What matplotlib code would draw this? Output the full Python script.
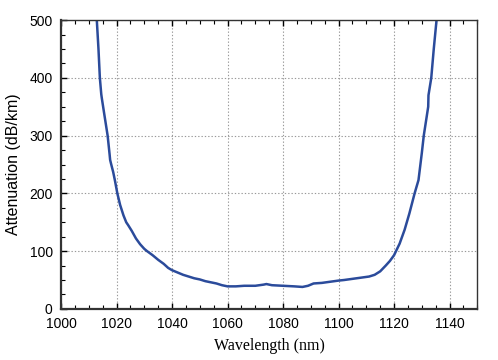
import matplotlib.pyplot as plt
from matplotlib.ticker import MultipleLocator

# attenuation spectrum
wavelength = [1012.9, 1013.5, 1014.0, 1014.5, 1014.7, 1015.5, 1016.8, 1017.5, 1017.7, 1018.0,
              1018.8, 1019.4, 1020.3, 1021.3, 1022.5, 1023.5, 1024.2, 1025.5, 1027.0, 1028.5,
              1030.0, 1031.0, 1033.0, 1035.0, 1037.0, 1038.6, 1040.0, 1042.0, 1044.0, 1046.0,
              1048.0, 1050.0, 1052.0, 1054.0, 1056.0, 1058.0, 1060.0, 1063.0, 1066.0, 1070.0,
              1073.0, 1074.0, 1076.0, 1080.0, 1084.0, 1087.0, 1089.0, 1091.0, 1094.0, 1097.0,
              1100.0, 1102.0, 1105.0, 1108.0, 1111.0, 1113.0, 1115.0, 1117.0, 1118.5, 1120.0,
              1122.0, 1123.8, 1125.5, 1127.4, 1128.8, 1130.0, 1130.7, 1131.5, 1132.3, 1132.4,
              1133.4, 1134.3, 1135.3]
attenuation = [500, 450, 400, 372, 365, 340, 300, 268, 258, 252,
               237, 223, 200, 180, 162, 150, 145, 135, 122, 112,
               104, 100, 93, 85, 78, 71, 67, 63, 59, 56,
               53, 51, 48, 46, 44, 41, 39, 39, 40, 40,
               42, 43, 41, 40, 39, 38, 40, 44, 45, 47,
               49, 50, 52, 54, 56, 59, 65, 75, 83, 93,
               113, 137, 165, 200, 223, 270, 300, 325, 350, 370,
               400, 450, 500]

fig = plt.figure(figsize=(4.98, 3.6), dpi=100)
ax = fig.add_axes([0.1225, 0.142, 0.836, 0.802])

ax.plot(wavelength, attenuation, color='#2b4b9b', lw=1.8)

ax.set_xlim(1000, 1150)
ax.set_ylim(0, 500)
ax.xaxis.set_major_locator(MultipleLocator(20))
ax.xaxis.set_minor_locator(MultipleLocator(5))
ax.yaxis.set_major_locator(MultipleLocator(100))
ax.yaxis.set_minor_locator(MultipleLocator(25))
ax.grid(True, which='major', color='#999999', ls=(0, (1.2, 1.8)), lw=0.8)

ax.tick_params(which='both', direction='in', top=True, right=False, labelsize=10,
               labelfontfamily='Liberation Sans')
ax.tick_params(which='major', length=4, width=1)
ax.tick_params(which='minor', length=3, width=0.8)
ax.tick_params(axis='x', which='major', pad=6)
ax.tick_params(axis='y', which='major', pad=6)

for side in ['left', 'bottom']:
    ax.spines[side].set_linewidth(1.6)
for side in ['top', 'right']:
    ax.spines[side].set_linewidth(1.0)
for s in ax.spines.values():
    s.set_color('#333333')

ax.set_xlabel('Wavelength (nm)', family='Liberation Serif', fontsize=11.5, labelpad=5)
ax.set_ylabel('Attenuation (dB/km)', family='Liberation Sans', fontsize=11.5, labelpad=6)

fig.savefig('out.png', dpi=100)
